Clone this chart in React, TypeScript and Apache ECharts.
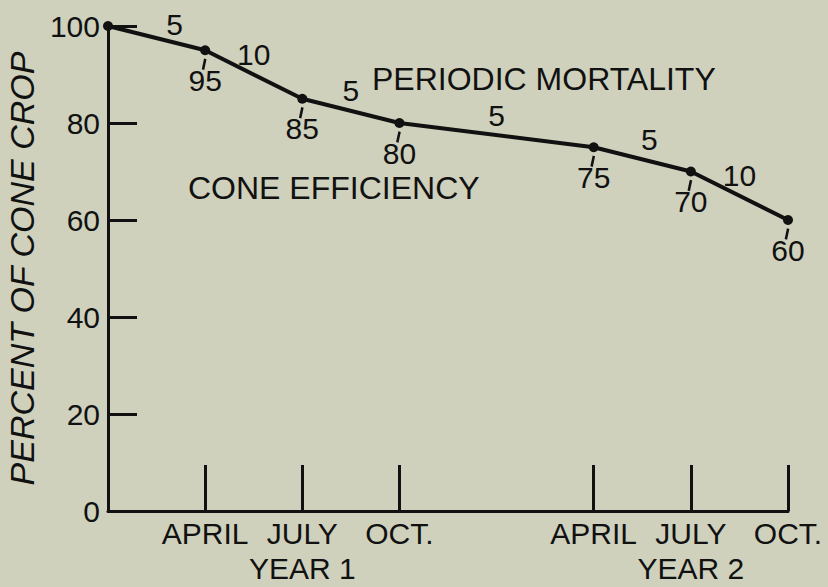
import React, { useEffect, useRef } from 'react';
import * as echarts from 'echarts';

// Months elapsed since January of Year 1
const monthsElapsed = [0, 3, 6, 9, 15, 18, 21];
const coneEfficiency = [100, 95, 85, 80, 75, 70, 60];
const periodicMortality = [5, 10, 5, 5, 5, 10];
const tickMonths = [3, 6, 9, 15, 18, 21];
const monthLabels = ['APRIL', 'JULY', 'OCT.', 'APRIL', 'JULY', 'OCT.'];
const yearLabels = ['', 'YEAR 1', '', '', 'YEAR 2', ''];
const yTickValues = [0, 20, 40, 60, 80, 100];

const FONT = '"Liberation Sans", Arial, sans-serif';
const INK = '#111111';
const BG = '#cfd1bd';

export default function App() {
  const ref = useRef<HTMLDivElement | null>(null);

  useEffect(() => {
    document.body.style.margin = '0';
    if (!ref.current) return;
    const chart = echarts.init(ref.current, undefined, { renderer: 'svg' });

    const lineData = monthsElapsed.map((m, i) => [m, coneEfficiency[i]]);
    const pointLabelData = lineData.slice(1);
    const midData = periodicMortality.map((v, i) => {
      const item: any = {
        value: [
          (monthsElapsed[i] + monthsElapsed[i + 1]) / 2,
          (coneEfficiency[i] + coneEfficiency[i + 1]) / 2,
          v,
        ],
      };
      if (i === 0) item.label = { offset: [18, 6] };
      if (i === 4) item.label = { offset: [7, 0] };
      return item;
    });

    const labelText = { fontSize: 30, lineHeight: 30, color: INK, fontFamily: FONT, opacity: 1 };

    chart.setOption({
      animation: false,
      backgroundColor: BG,
      textStyle: { fontFamily: FONT, color: INK },
      grid: { left: 108, right: 40, top: 26, bottom: 76, containLabel: false, outerBoundsMode: 'none' },
      graphic: [
        {
          type: 'text',
          left: 372,
          top: 63,
          style: { text: 'PERIODIC MORTALITY', font: `32px ${FONT}`, fill: INK },
        },
        {
          type: 'text',
          left: 188,
          top: 172,
          style: { text: 'CONE EFFICIENCY', font: `32px ${FONT}`, fill: INK },
        },
      ],
      xAxis: {
        type: 'value',
        min: 0,
        max: 21,
        splitLine: { show: false },
        axisLine: { show: true, lineStyle: { color: INK, width: 3 } },
        axisTick: {
          show: true,
          inside: true,
          length: 46,
          customValues: tickMonths,
          lineStyle: { color: INK, width: 3 },
        },
        axisLabel: {
          show: true,
          customValues: tickMonths,
          margin: 5,
          fontSize: 30,
          lineHeight: 35,
          color: INK,
          fontFamily: FONT,
          formatter: (v: number) => {
            const i = tickMonths.indexOf(v);
            if (i < 0) return '';
            return `${monthLabels[i]}\n${yearLabels[i] || ' '}`;
          },
        },
      },
      yAxis: {
        type: 'value',
        min: 0,
        max: 100,
        interval: 20,
        name: 'PERCENT OF CONE CROP',
        nameLocation: 'middle',
        nameGap: 58,
        nameTextStyle: { fontStyle: 'italic', fontSize: 34, color: INK, fontFamily: FONT },
        splitLine: { show: false },
        axisLine: { show: true, lineStyle: { color: INK, width: 3 } },
        axisTick: { show: true, inside: true, length: 29, lineStyle: { color: INK, width: 3 } },
        axisLabel: {
          show: true,
          margin: 8,
          fontSize: 30,
          color: INK,
          fontFamily: FONT,
          customValues: yTickValues,
        },
      },
      series: [
        {
          type: 'line',
          data: lineData,
          symbol: 'circle',
          symbolSize: 10,
          showSymbol: true,
          itemStyle: { color: INK },
          lineStyle: { color: INK, width: 4 },
          z: 3,
        },
        {
          // short leader strokes below each point
          type: 'scatter',
          data: pointLabelData,
          symbol: 'rect',
          symbolSize: [2.5, 11],
          symbolRotate: -12,
          symbolOffset: [-1, 14],
          itemStyle: { color: INK, opacity: 1 },
          silent: true,
          z: 2,
        },
        {
          // point value labels
          type: 'scatter',
          data: pointLabelData,
          symbol: 'circle',
          symbolSize: 10,
          itemStyle: { color: 'transparent', opacity: 1 },
          label: {
            show: true,
            position: 'bottom',
            distance: 10,
            ...labelText,
            formatter: (p: any) => String(p.value[1]),
          },
          silent: true,
          z: 2,
        },
        {
          // periodic mortality labels above each segment
          type: 'scatter',
          data: midData,
          symbol: 'circle',
          symbolSize: 2,
          itemStyle: { color: 'transparent', opacity: 1 },
          label: {
            show: true,
            position: 'top',
            distance: 4,
            ...labelText,
            formatter: (p: any) => String(p.value[2]),
          },
          silent: true,
          z: 2,
        },
      ],
    });

    return () => chart.dispose();
  }, []);

  return <div ref={ref} style={{ width: 828, height: 587 }} />;
}
